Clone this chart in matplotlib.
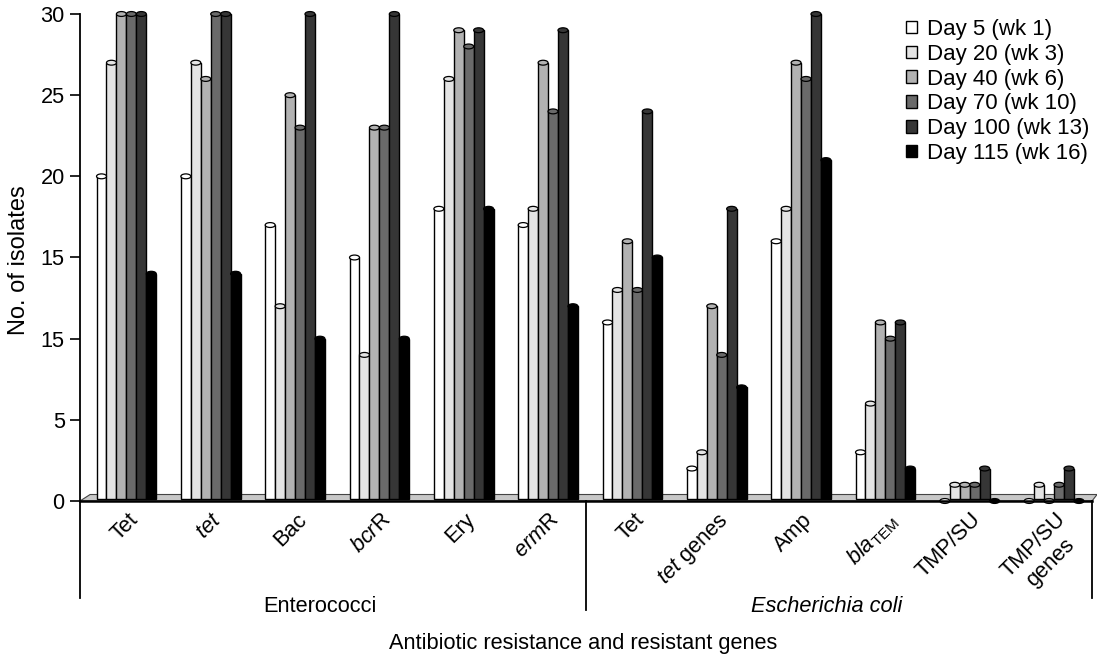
import numpy as np
import matplotlib.pyplot as plt
from matplotlib.patches import Ellipse, Rectangle, Polygon, Patch

plt.rcParams['font.family'] = ['Liberation Sans', 'DejaVu Sans']
plt.rcParams['mathtext.fontset'] = 'custom'
plt.rcParams['mathtext.rm'] = 'Liberation Sans'
plt.rcParams['mathtext.it'] = 'Liberation Sans:italic'

categories = ['Tet', r'$\it{tet}$', 'Bac', r'$\it{bcr}$R', 'Ery', r'$\it{erm}$R',
              'Tet', r'$\it{tet}$ genes', 'Amp', r'$\it{bla}_{\rm{TEM}}$', 'TMP/SU', 'TMP/SU\ngenes']
series = ['Day 5 (wk 1)', 'Day 20 (wk 3)', 'Day 40 (wk 6)', 'Day 70 (wk 10)',
          'Day 100 (wk 13)', 'Day 115 (wk 16)']
day5 = [20, 20, 17, 15, 18, 17, 11, 2, 16, 3, 0, 0]
day20 = [27, 27, 12, 9, 26, 18, 13, 3, 18, 6, 1, 1]
day40 = [30, 26, 25, 23, 29, 27, 16, 12, 27, 11, 1, 0]
day70 = [30, 30, 23, 23, 28, 24, 13, 9, 26, 10, 1, 1]
day100 = [30, 30, 30, 30, 29, 29, 24, 18, 30, 11, 2, 2]
day115 = [14, 14, 10, 10, 18, 12, 15, 7, 21, 2, 0, 0]
values = [day5, day20, day40, day70, day100, day115]
colors = ['#ffffff', '#e4e4e4', '#b2b2b2', '#6a6a6a', '#363636', '#000000']
yticks = [0, 5, 10, 15, 20, 25, 30]
ytick_labels = ['0', '5', '15', '15', '20', '25', '30']
groups = ['Enterococci', 'Escherichia coli']

fs = 15.7
fig = plt.figure(figsize=(10.97, 6.54), dpi=100)
ax = fig.add_axes([80/1097, 153/654, 1012/1097, 487/654])
ax.set_xlim(0, 12)
ax.set_ylim(0, 30)

# floor of the pseudo-3D chart
ax.add_patch(Polygon([(0, 0), (0.12, 0.4), (12.06, 0.4), (12.0, 0)], closed=True,
                     facecolor='#c8c8c8', edgecolor='#444444', lw=0.8, zorder=1, clip_on=False))

w = 0.118
cap = 0.3
for j, (vals, col) in enumerate(zip(values, colors)):
    for i, v in enumerate(vals):
        x = i + 0.5 + 0.05 + (j - 2.5) * w
        if v > 0:
            ax.add_patch(Rectangle((x - w/2, 0.1), w, v - 0.1, facecolor=col, edgecolor='black',
                                   lw=1.0, zorder=3, clip_on=False))
        ax.add_patch(Ellipse((x, v), w, cap, facecolor=col, edgecolor='black', lw=0.9,
                             zorder=4, clip_on=False))

ax.set_yticks(yticks)
ax.set_yticklabels(ytick_labels, fontsize=fs)
ax.tick_params(axis='y', direction='out', length=7, width=1.2, pad=4)
ax.set_xticks([])
for s in ['top', 'right']:
    ax.spines[s].set_visible(False)
ax.spines['left'].set_linewidth(1.3)
ax.spines['bottom'].set_linewidth(1.8)
ax.spines['bottom'].set_zorder(5)
fig.text(19/1097, 1 - 260/654, 'No. of isolates', rotation=90, ha='center', va='center',
         fontsize=17)

# category labels, rotated
for i, lab in enumerate(categories):
    ax.text(i + 0.56, -0.5, lab, rotation=45, rotation_mode='anchor', ha='right', va='top',
            multialignment='center', fontsize=fs)

# separators and group labels
ax.plot([0, 0], [0, -6.0], color='black', lw=1.3, clip_on=False)
ax.plot([6, 6], [0, -6.7], color='black', lw=1.3, clip_on=False)
ax.plot([12, 12], [0, -6.0], color='black', lw=1.3, clip_on=False)
ax.text(2.85, -6.5, groups[0], ha='center', va='center', fontsize=fs)
ax.text(8.85, -6.5, groups[1], ha='center', va='center', fontsize=fs, style='italic')
fig.text(583/1097, 1 - 643/654, 'Antibiotic resistance and resistant genes',
         ha='center', va='center', fontsize=fs)

handles = [Patch(facecolor=c, edgecolor='black', lw=1) for c in colors]
fig.legend(handles, series, loc='upper right', bbox_to_anchor=(1089/1097, 1 - 19/654),
           frameon=False, fontsize=16, handlelength=0.5, handleheight=0.5,
           handletextpad=0.45, labelspacing=0.17, borderpad=0, borderaxespad=0)

fig.savefig('out.png', dpi=100)
